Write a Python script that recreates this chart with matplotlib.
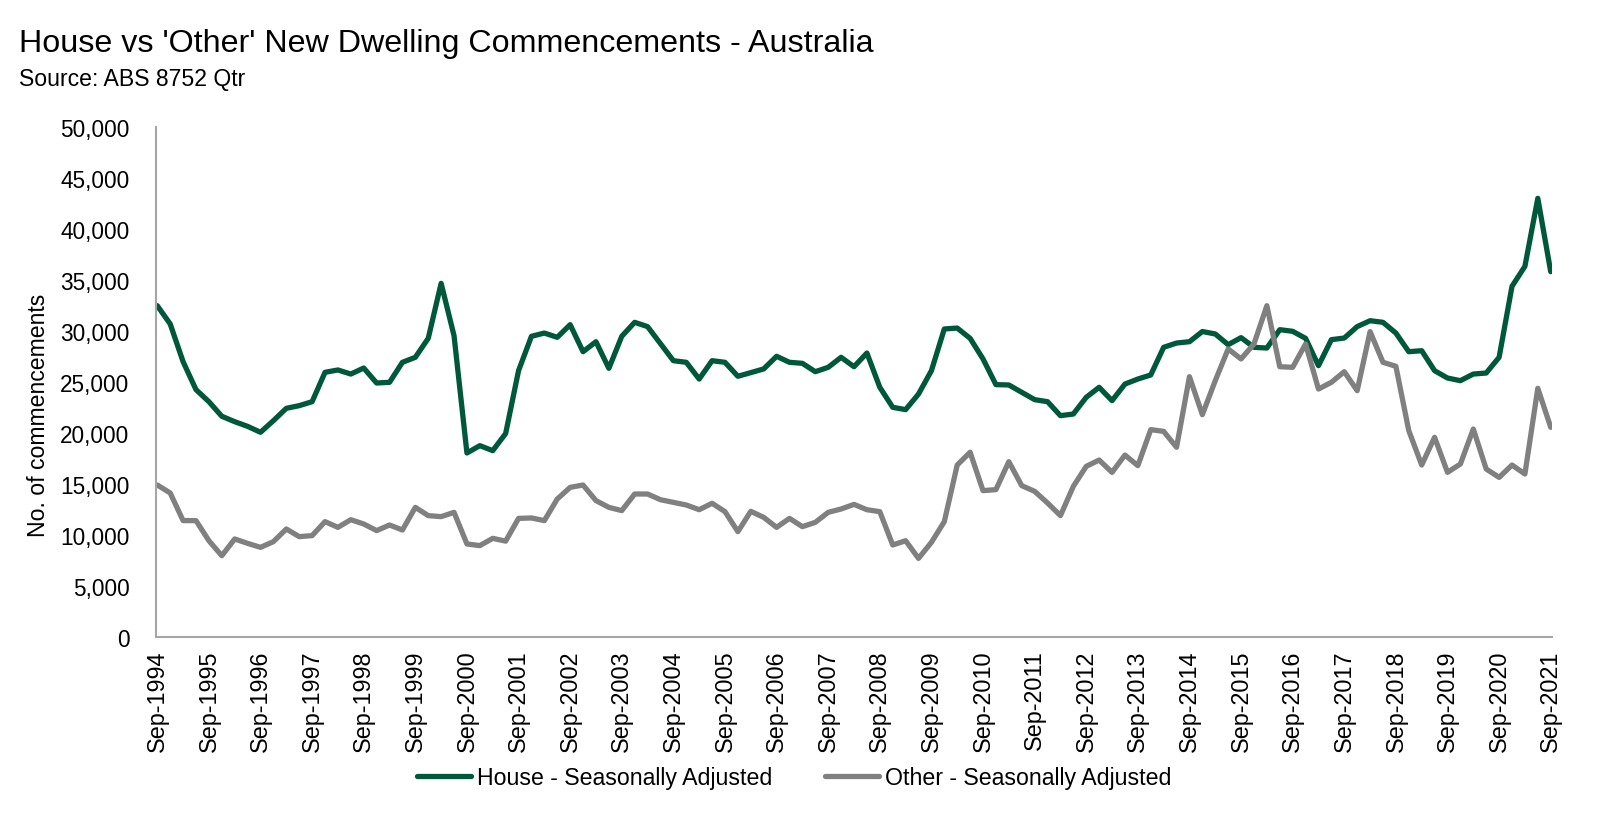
import matplotlib
matplotlib.use("Agg")
import matplotlib.pyplot as plt
from matplotlib.ticker import FuncFormatter
import numpy as np

# Quarterly commencements, Sep-1994 .. Sep-2021 (seasonally adjusted)
house = [32480, 30690, 26990, 24250, 23070, 21640, 21110, 20650, 20070, 21210,
         22420, 22680, 23070, 25950, 26180, 25780, 26370, 24900, 24970, 26930,
         27420, 29280, 34670, 29540, 18040, 18760, 18270, 19950, 26110, 29480,
         29800, 29380, 30620, 27970, 28950, 26340, 29480, 30850, 30430, 28760,
         27090, 26930, 25290, 27090, 26930, 25560, 25920, 26280, 27520, 26930,
         26830, 26010, 26440, 27420, 26500, 27840, 24480, 22520, 22290, 23820,
         26110, 30200, 30290, 29280, 27260, 24740, 24710, 23990, 23270, 23070,
         21700, 21860, 23500, 24480, 23170, 24800, 25290, 25690, 28400, 28820,
         28950, 29950, 29710, 28660, 29350, 28400, 28330, 30130, 29970, 29280,
         26600, 29150, 29310, 30430, 31010, 30850, 29800, 27970, 28070, 26110,
         25390, 25130, 25780, 25880, 27420, 34380, 36340, 43010, 35820]

other = [14900, 14120, 11410, 11410, 9440, 7970, 9610, 9180, 8790, 9350,
         10590, 9840, 9940, 11310, 10750, 11500, 11080, 10430, 10980, 10490,
         12710, 11900, 11800, 12220, 9120, 8960, 9670, 9400, 11630, 11670,
         11410, 13530, 14670, 14900, 13370, 12710, 12390, 14020, 14020, 13460,
         13200, 12940, 12480, 13110, 12290, 10330, 12320, 11730, 10750, 11630,
         10820, 11240, 12220, 12550, 13000, 12480, 12290, 9020, 9440, 7710,
         9280, 11310, 16860, 18110, 14350, 14450, 17190, 14840, 14280, 13140,
         11900, 14770, 16730, 17350, 16140, 17840, 16800, 20330, 20160, 18600,
         25520, 21800, 25130, 28240, 27260, 28730, 32480, 26500, 26440, 28730,
         24310, 24970, 26010, 24150, 29940, 26930, 26540, 20230, 16860, 19580,
         16140, 16960, 20390, 16470, 15650, 16860, 15980, 24380, 20560]

years = list(range(1994, 2022))
tick_labels = [f"Sep-{y}" for y in years]

plt.rcParams["font.family"] = ["Liberation Sans", "DejaVu Sans"]

W, H = 1618, 828
fig = plt.figure(figsize=(W / 100, H / 100), dpi=100)
ax = fig.add_axes([156 / W, 1 - 638 / H, (1552 - 156) / W, (638 - 128) / H])

green = "#00583B"
grey = "#808080"
x = np.arange(len(house))
ax.plot(x, house, color=green, lw=3.8, solid_joinstyle="round", solid_capstyle="round",
        label="House - Seasonally Adjusted")
ax.plot(x, other, color=grey, lw=3.8, solid_joinstyle="round", solid_capstyle="round",
        label="Other - Seasonally Adjusted")

ax.set_xlim(-0.1, len(house) - 0.9)
ax.set_ylim(0, 50000)
ax.set_yticks(np.arange(0, 50001, 5000))
ax.yaxis.set_major_formatter(FuncFormatter(lambda v, p: f"{int(v):,}"))
ax.set_xticks(np.arange(0, len(house), 4))
ax.set_xticklabels(tick_labels, rotation=90, fontsize=16.8)
for lab in ax.get_yticklabels():
    lab.set_fontsize(16.3)
ax.tick_params(axis="y", length=0, pad=19)
ax.tick_params(axis="x", length=0, pad=9)

for s in ["top", "right"]:
    ax.spines[s].set_visible(False)
for s in ["left", "bottom"]:
    ax.spines[s].set_color("#a6a6a6")
    ax.spines[s].set_linewidth(1.5)

fig.text(39 / W, 1 - 415 / H, "No. of commencements", rotation=90, ha="center", va="center",
         fontsize=16.6)

fig.text(19 / W, 1 - 52 / H, "House vs 'Other' New Dwelling Commencements - Australia",
         ha="left", va="baseline", fontsize=23.2)
fig.text(19 / W, 1 - 86 / H, "Source: ABS 8752 Qtr", ha="left", va="baseline",
         fontsize=16.6)

fig.legend(loc="center", bbox_to_anchor=(794 / W, 1 - 779 / H), ncol=2, frameon=False,
           prop={"size": 16.7}, handlelength=2.33, handletextpad=0.26,
           columnspacing=2.28, borderpad=0)

fig.savefig("out.png", dpi=100, facecolor="white")
